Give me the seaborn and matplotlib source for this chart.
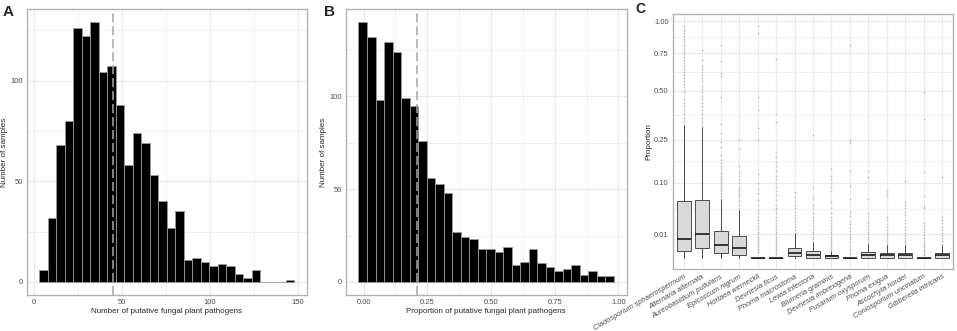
import numpy as np
import pandas as pd
import matplotlib
matplotlib.use("Agg")
import matplotlib.pyplot as plt
import seaborn as sns

# A: number of putative fungal plant pathogens per sample (30 bins)
count_bin_start = 3.3
count_bin_width = 4.82
count_hist = [6, 32, 68, 80, 126, 122, 129, 104, 107, 88, 58, 74, 69, 53, 40,
              27, 35, 11, 12, 10, 8, 9, 8, 4, 2, 6, 0, 0, 0, 1]
count_median = 45

# B: proportion of putative fungal plant pathogens per sample (30 bins)
prop_bin_start = -0.0197
prop_bin_width = 0.0334
prop_hist = [140, 132, 98, 129, 124, 99, 95, 76, 56, 53, 48, 27, 24, 23, 18,
             18, 16, 19, 9, 11, 18, 10, 8, 6, 7, 9, 4, 6, 3, 3]
prop_median = 0.21

# C: proportion of each species per sample (box summaries)
species = ["Cladosporium sphaerospermum", "Alternaria alternata",
           "Aureobasidium pullulans", "Epicoccum nigrum", "Hortaea werneckii",
           "Devriesia ficus", "Phoma macrostoma", "Lewia infectoria",
           "Blumeria graminis", "Devriesia imbrexigena", "Fusarium oxysporum",
           "Phoma exigua", "Ascochyta hordei", "Coniosporium uncinatum",
           "Gibberella intricans"]
box_q1 = [0.0007, 0.0016, 0.00036, 0.00018, 0, 0, 0.00003, 0, 0, 0, 0, 0, 0, 0, 0]
box_med = [0.0061, 0.0102, 0.0028, 0.0018, 0, 0, 0.00036, 0.0001, 0.00003, 0,
           0.0001, 0.0001, 0.0001, 0, 0.0001]
box_q3 = [0.058, 0.060, 0.0125, 0.0083, 0, 0, 0.0018, 0.00076, 0.00015, 0,
          0.00054, 0.00043, 0.00048, 0, 0.00043]
whisker_hi = [0.317, 0.305, 0.062, 0.041, 0, 0, 0.011, 0.0046, 0.0009, 0,
              0.0035, 0.0027, 0.0031, 0, 0.0027]
whisker_lo = [0, 0, 0, 0, 0, 0, 0, 0, 0, 0, 0, 0, 0, 0, 0]

out_clad = [0.33, 0.35, 0.37, 0.39, 0.41, 0.43, 0.45, 0.50, 0.52, 0.54, 0.56,
            0.58, 0.60, 0.62, 0.64, 0.66, 0.68, 0.70, 0.72, 0.74, 0.76, 0.78,
            0.80, 0.82, 0.84, 0.86, 0.88, 0.90, 0.92, 0.94, 0.96]
out_alt = [0.31, 0.33, 0.35, 0.37, 0.39, 0.41, 0.43, 0.45, 0.47, 0.49, 0.51,
           0.53, 0.56, 0.58, 0.60, 0.62, 0.64, 0.66, 0.70, 0.77]
out_aur = [0.065, 0.07, 0.075, 0.08, 0.085, 0.09, 0.095, 0.10, 0.105, 0.11,
           0.115, 0.12, 0.125, 0.13, 0.14, 0.15, 0.16, 0.17, 0.19, 0.22, 0.24,
           0.28, 0.32, 0.46, 0.59, 0.61, 0.69, 0.81]
out_epi = [0.045, 0.05, 0.055, 0.06, 0.065, 0.07, 0.075, 0.08, 0.085, 0.09,
           0.10, 0.11, 0.12, 0.13, 0.15, 0.21, 0.25]
out_hor = [0.0005, 0.001, 0.0015, 0.002, 0.003, 0.004, 0.005, 0.006, 0.008,
           0.01, 0.012, 0.015, 0.018, 0.021, 0.025, 0.03, 0.035, 0.04, 0.05,
           0.06, 0.075, 0.085, 0.10, 0.126, 0.25, 0.30, 0.39, 0.46, 0.90, 0.96]
out_dfic = [0.0003, 0.0006, 0.001, 0.0015, 0.002, 0.003, 0.004, 0.005, 0.006,
            0.008, 0.01, 0.012, 0.015, 0.018, 0.021, 0.025, 0.03, 0.035, 0.04,
            0.045, 0.05, 0.06, 0.07, 0.08, 0.09, 0.10, 0.11, 0.12, 0.135,
            0.15, 0.165, 0.18, 0.20, 0.33, 0.37, 0.71]
out_pmac = [0.014, 0.017, 0.02, 0.024, 0.028, 0.033, 0.038, 0.044, 0.05,
            0.058, 0.066, 0.077]
out_lew = [0.006, 0.008, 0.01, 0.012, 0.015, 0.018, 0.022, 0.026, 0.03, 0.036,
           0.042, 0.05, 0.064, 0.089, 0.27]
out_blu = [0.0014, 0.002, 0.003, 0.004, 0.005, 0.0065, 0.008, 0.01, 0.012,
           0.015, 0.018, 0.022, 0.026, 0.029, 0.035, 0.045, 0.055, 0.08, 0.09,
           0.10, 0.11, 0.12, 0.141]
out_dimb = [0.0003, 0.0008, 0.0015, 0.0025, 0.0043, 0.006, 0.008, 0.01, 0.013,
            0.016, 0.02, 0.024, 0.031, 0.038, 0.0625, 0.093, 0.136, 0.238,
            0.246, 0.81]
out_fus = [0.0045, 0.006, 0.008, 0.01, 0.012, 0.015, 0.018, 0.021, 0.024,
           0.029, 0.035, 0.0625, 0.116, 0.136]
out_pexi = [0.0036, 0.005, 0.007, 0.009, 0.011, 0.014, 0.017, 0.02, 0.025,
            0.03, 0.068, 0.075, 0.081]
out_asc = [0.0038, 0.005, 0.007, 0.009, 0.011, 0.014, 0.017, 0.021, 0.026,
           0.032, 0.038, 0.045, 0.05, 0.055, 0.105]
out_con = [0.0001, 0.0003, 0.0006, 0.001, 0.0015, 0.002, 0.003, 0.004, 0.005,
           0.007, 0.009, 0.012, 0.015, 0.018, 0.022, 0.044, 0.048, 0.069,
           0.131, 0.345, 0.49]
out_gib = [0.0036, 0.005, 0.007, 0.009, 0.011, 0.014, 0.017, 0.021, 0.025,
           0.03, 0.116]
outliers = [out_clad, out_alt, out_aur, out_epi, out_hor, out_dfic, out_pmac,
            out_lew, out_blu, out_dimb, out_fus, out_pexi, out_asc, out_con,
            out_gib]

sns.set_style("white")
plt.rcParams["font.family"] = ["Liberation Sans", "DejaVu Sans"]

grid_col = "#ebebeb"
frame_col = "#b3b3b3"
tick_col = "#4d4d4d"


def style_axes(ax):
    ax.set_axisbelow(True)
    ax.grid(True, which="major", color=grid_col, lw=0.9)
    ax.grid(True, which="minor", color=grid_col, lw=0.5)
    for s in ax.spines.values():
        s.set_visible(True)
        s.set_color(frame_col)
        s.set_linewidth(1.0)
    ax.tick_params(axis="both", which="major", length=1.8, width=0.6,
                   color="#333333", labelsize=5.5, labelcolor=tick_col, pad=1.0)
    ax.tick_params(axis="both", which="minor", length=0)


fig = plt.figure(figsize=(9.57, 3.31), dpi=100)
axA = fig.add_axes([0.0279, 0.1088, 0.2926, 0.864])
axB = fig.add_axes([0.3612, 0.1088, 0.2936, 0.864])
axC = fig.add_axes([0.7029, 0.1864, 0.2932, 0.7713])

# ---- A
edgesA = count_bin_start + count_bin_width * np.arange(len(count_hist) + 1)
dfA = pd.DataFrame({"n_path": (edgesA[:-1] + edgesA[1:]) / 2, "samples": count_hist})
sns.histplot(data=dfA, x="n_path", weights="samples", bins=list(edgesA), ax=axA,
             color="black", edgecolor="#9a9a9a", linewidth=0.6, alpha=1)
axA.axvline(count_median, color="#a6a6a6", lw=1.1, ls=(0, (6, 2.5)))
axA.set_xlim(-3.9, 155)
axA.set_ylim(-6.45, 135.5)
axA.set_xticks([0, 50, 100, 150])
axA.set_xticks([25, 75, 125], minor=True)
axA.set_yticks([0, 50, 100])
axA.set_yticks([25, 75, 125], minor=True)
axA.set_xlabel("Number of putative fungal plant pathogens", fontsize=5.8, labelpad=1.5)
axA.set_ylabel("Number of samples", fontsize=5.8, labelpad=1.5)
style_axes(axA)

# ---- B
edgesB = prop_bin_start + prop_bin_width * np.arange(len(prop_hist) + 1)
dfB = pd.DataFrame({"prop": (edgesB[:-1] + edgesB[1:]) / 2, "samples": prop_hist})
sns.histplot(data=dfB, x="prop", weights="samples", bins=list(edgesB), ax=axB,
             color="black", edgecolor="#9a9a9a", linewidth=0.6, alpha=1)
axB.axvline(prop_median, color="#a6a6a6", lw=1.1, ls=(0, (6, 2.5)))
axB.set_xlim(-0.07, 1.032)
axB.set_ylim(-7, 147)
axB.set_xticks([0, 0.25, 0.5, 0.75, 1.0])
axB.set_xticklabels(["0.00", "0.25", "0.50", "0.75", "1.00"])
axB.set_xticks([0.125, 0.375, 0.625, 0.875], minor=True)
axB.set_yticks([0, 50, 100])
axB.set_yticks([25, 75, 125], minor=True)
axB.set_xlabel("Proportion of putative fungal plant pathogens", fontsize=5.8, labelpad=1.5)
axB.set_ylabel("Number of samples", fontsize=5.8, labelpad=1.5)
style_axes(axB)

# ---- C
stats = []
for i, name in enumerate(species):
    stats.append(dict(label=name, q1=box_q1[i], med=box_med[i], q3=box_q3[i],
                      whislo=whisker_lo[i], whishi=whisker_hi[i],
                      fliers=outliers[i]))


def fwd(v):
    v = np.asarray(v, dtype=float)
    return np.sign(v) * np.sqrt(np.abs(v))


def inv(s):
    s = np.asarray(s, dtype=float)
    return np.sign(s) * s ** 2


axC.set_yscale("function", functions=(fwd, inv))
axC.bxp(stats, positions=np.arange(len(species)), widths=0.75,
        patch_artist=True, showcaps=False,
        boxprops=dict(facecolor="#d9d9d9", edgecolor="#333333", linewidth=0.6),
        medianprops=dict(color="#1a1a1a", linewidth=1.2),
        whiskerprops=dict(color="#333333", linewidth=0.6),
        flierprops=dict(marker="o", markersize=1.3, markerfacecolor="#bdbdbd",
                        markeredgecolor="none", alpha=0.9))
axC.set_ylim(-0.0024, 1.063)
axC.set_xlim(-0.6, len(species) - 0.4)
yt = [0.01, 0.10, 0.25, 0.50, 0.75, 1.00]
axC.set_yticks(yt)
axC.set_yticklabels(["0.01", "0.10", "0.25", "0.50", "0.75", "1.00"])
st = np.sqrt(yt)
axC.set_yticks(((st[:-1] + st[1:]) / 2) ** 2, minor=True)
axC.set_xticks(np.arange(len(species)))
axC.set_xticklabels(species, rotation=30, ha="right", rotation_mode="anchor",
                    fontstyle="italic")
axC.set_ylabel("Proportion", fontsize=5.8, labelpad=1.5)
axC.set_xlabel("")
style_axes(axC)
axC.tick_params(axis="x", labelsize=5.3)

fig.text(0.003, 0.985, "A", fontsize=11, fontweight="bold", va="top")
fig.text(0.339, 0.985, "B", fontsize=11, fontweight="bold", va="top")
fig.text(0.664, 0.995, "C", fontsize=10, fontweight="bold", va="top")

fig.savefig("out.png", dpi=100)
